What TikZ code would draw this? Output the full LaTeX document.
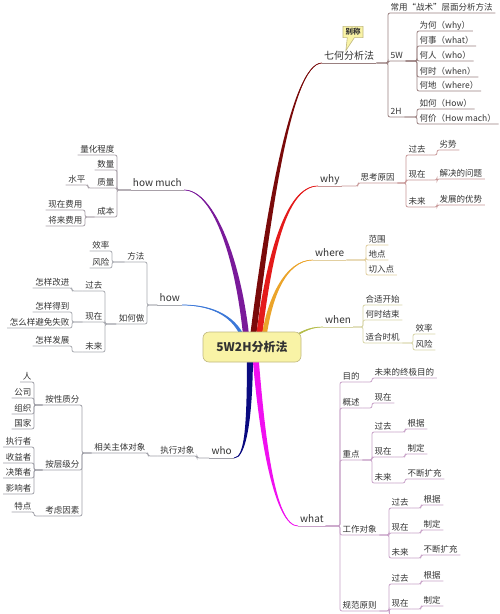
\documentclass[tikz,border=0pt]{standalone}
\usepackage{fontspec}
\setmainfont{Noto Sans CJK SC}
\usetikzlibrary{calc,shapes.callouts}
\definecolor{txt}{HTML}{333333}
\definecolor{mq}{HTML}{7A0A0A}\definecolor{sq}{HTML}{9A8080}
\definecolor{my}{HTML}{E41B1B}\definecolor{sy}{HTML}{C89898}
\definecolor{mr}{HTML}{EBA42A}\definecolor{sr}{HTML}{E2CFA0}
\definecolor{mn}{HTML}{B5BD4A}\definecolor{sn}{HTML}{D8D6A8}
\definecolor{mw}{HTML}{F010F0}\definecolor{sw}{HTML}{C8A2C8}
\definecolor{mo}{HTML}{0A0A80}\definecolor{so}{HTML}{A0A0A8}
\definecolor{mh}{HTML}{3C78D8}\definecolor{sh}{HTML}{A8AAB0}
\definecolor{mm}{HTML}{7A1A9A}\definecolor{sm}{HTML}{A8A0A8}
\definecolor{boxfill}{HTML}{F9F3A6}\definecolor{boxline}{HTML}{C0B880}
\newcommand\mbranch[7]{%
 \fill[#5] ($#1+#6$) .. controls ($#2+#6$) and ($#3+#7$) .. #4 .. controls ($#3-#7$) and ($#2-#6$) .. ($#1-#6$) -- cycle;
 \draw[#5,line width=0.7pt] #1 .. controls #2 and #3 .. #4;}
\newcommand\rc[3]{\draw[sub,#1] (#2.south east) -- (#2.south east -| #3.south west) |- (#3.south east);}
\newcommand\lc[3]{\draw[sub,#1] (#2.south west) -- (#2.south west -| #3.south east) |- (#3.south west);}
\begin{document}
\begin{tikzpicture}[x=1pt,y=-1pt,
 t/.style={font=\fontsize{8.5}{10}\selectfont, text=txt, inner xsep=2.5pt, inner ysep=1.2pt, text height=7pt, text depth=1.5pt},
 tr/.style={t, anchor=south west}, tl/.style={t, anchor=south east},
 m/.style={font=\fontsize{10}{12}\selectfont, text=txt, inner xsep=2pt, inner ysep=1.5pt, text height=8pt, text depth=2pt},
 mrt/.style={m, anchor=south west}, mlt/.style={m, anchor=south east},
 sub/.style={line width=0.8pt, rounded corners=2pt},
 cbox/.style={draw=boxline, fill=boxfill, line width=0.6pt, rounded corners=6pt, minimum width=98pt, minimum height=30pt, text=txt, font=\bfseries\fontsize{12}{14}\selectfont},
 bubble/.style={rectangle callout, callout relative pointer={(-5,13)}, draw=boxline, fill=boxfill, line width=0.6pt, inner xsep=2.5pt, inner ysep=2pt, text=txt, font=\bfseries\fontsize{7.5}{9}\selectfont}
]
\useasboundingbox (0,0) rectangle (500,614);
\fill[white] (0,0) rectangle (500,614);
% ---------- main labels ----------
\node[mrt] (q) at (322,63) {七何分析法};
\node[mrt] (y) at (318,186) {why};
\node[mrt] (r) at (313,260) {where};
\node[mrt] (n) at (323,327) {when};
\node[mrt] (w) at (298,526) {what};
\node[mlt] (o) at (234,458) {who};
\node[mlt] (h) at (182,305) {how};
\node[mlt] (hm) at (184,190) {how much};
\node[bubble] (bc) at (353,32) {别称};
% ---------- start points ----------
\coordinate (s1) at (252,345);
\coordinate (s2) at (258,345);
\coordinate (s3) at (263,345);
\coordinate (s4) at (285,342);
\coordinate (s5) at (255,350);
\coordinate (s6) at (250,350);
\coordinate (s7) at (244,340);
\coordinate (s8) at (247,345);
% ---------- thick branches ----------
\mbranch{(s8)}{(240,265)}{(215,190)}{(hm.south east)}{mm}{(3,0)}{(0,-1.2)}
\mbranch{(s7)}{(236,318)}{(215,305)}{(h.south east)}{mh}{(2,0)}{(0,-1)}
\mbranch{(s1)}{(266,230)}{(290,63)}{(q.south west)}{mq}{(3,0)}{(0,1.2)}
\mbranch{(s2)}{(268,260)}{(285,186)}{(y.south west)}{my}{(3,0)}{(0,1.2)}
\mbranch{(s3)}{(268,300)}{(285,260)}{(r.south west)}{mr}{(2.5,0)}{(0,1)}
\mbranch{(s4)}{(300,333)}{(308,327)}{(n.south west)}{mn}{(0,1.2)}{(0,0.6)}
\mbranch{(s6)}{(250,425)}{(245,458)}{(o.south east)}{mo}{(3,0)}{(0,1.2)}
\mbranch{(s5)}{(262,440)}{(275,526)}{(w.south west)}{mw}{(3,0)}{(0,-1.2)}
\node[cbox] (c) at (252,347) {5W2H分析法};
% ---------- underlines of main labels ----------
\draw[sub,sq] (q.south west) -- (q.south east);
\draw[sub,sy] (y.south west) -- (y.south east);
\draw[sub,sr] (r.south west) -- (r.south east);
\draw[sub,sn] (n.south west) -- (n.south east);
\draw[sub,sw] (w.south west) -- (w.south east);
\draw[sub,so] (o.south east) -- (o.south west);
\draw[sub,sh] (h.south east) -- (h.south west);
\draw[sub,sm] (hm.south east) -- (hm.south west);
% ---------- 七何分析法 ----------
\node[tr] (q1) at (388,13) {常用“战术”层面分析方法};
\node[tr] (q2) at (388,61) {5W};
\node[tr] (q3) at (388,117) {2H};
\node[tr] (q21) at (417,31) {为何（why）};
\node[tr] (q22) at (417,46) {何事（what）};
\node[tr] (q23) at (417,61) {何人（who）};
\node[tr] (q24) at (417,77) {何时（when）};
\node[tr] (q25) at (417,91) {何地（where）};
\node[tr] (q31) at (417,109) {如何（How）};
\node[tr] (q32) at (417,124) {何价（How mach）};
\rc{sq}{q}{q1}\rc{sq}{q}{q2}\rc{sq}{q}{q3}
\rc{sq}{q2}{q21}\rc{sq}{q2}{q22}\rc{sq}{q2}{q23}\rc{sq}{q2}{q24}\rc{sq}{q2}{q25}
\rc{sq}{q3}{q31}\rc{sq}{q3}{q32}
% ---------- why ----------
\node[tr] (y1) at (358,183) {思考原因};
\node[tr] (y11) at (406,155) {过去};
\node[tr] (y12) at (406,180) {现在};
\node[tr] (y13) at (406,207) {未来};
\node[tr] (y111) at (437,150) {劣势};
\node[tr] (y121) at (437,179) {解决的问题};
\node[tr] (y131) at (437,205) {发展的优势};
\rc{sy}{y}{y1}
\rc{sy}{y1}{y11}\rc{sy}{y1}{y12}\rc{sy}{y1}{y13}
\rc{sy}{y11}{y111}\rc{sy}{y12}{y121}\rc{sy}{y13}{y131}
% ---------- where ----------
\node[tr] (r1) at (366,245) {范围};
\node[tr] (r2) at (366,260) {地点};
\node[tr] (r3) at (366,275) {切入点};
\rc{sr}{r}{r1}\rc{sr}{r}{r2}\rc{sr}{r}{r3}
% ---------- when ----------
\node[tr] (n1) at (363,305) {合适开始};
\node[tr] (n2) at (363,320) {何时结束};
\node[tr] (n3) at (363,343) {适合时机};
\node[tr] (n31) at (413,334) {效率};
\node[tr] (n32) at (413,350) {风险};
\rc{sn}{n}{n1}\rc{sn}{n}{n2}\rc{sn}{n}{n3}
\rc{sn}{n3}{n31}\rc{sn}{n3}{n32}
% ---------- what ----------
\node[tr] (w1) at (340,382) {目的};
\node[tr] (w2) at (340,408) {概述};
\node[tr] (w3) at (340,460) {重点};
\node[tr] (w4) at (340,535) {工作对象};
\node[tr] (w5) at (340,611) {规范原则};
\node[tr] (w11) at (372,378) {未来的终极目的};
\node[tr] (w21) at (372,403) {现在};
\node[tr] (w31) at (372,432) {过去};
\node[tr] (w32) at (372,457) {现在};
\node[tr] (w33) at (372,483) {未来};
\node[tr] (w311) at (405,429) {根据};
\node[tr] (w321) at (405,454) {制定};
\node[tr] (w331) at (405,479) {不断扩充};
\node[tr] (w41) at (389,508) {过去};
\node[tr] (w42) at (389,533) {现在};
\node[tr] (w43) at (389,558) {未来};
\node[tr] (w411) at (421,505) {根据};
\node[tr] (w421) at (421,530) {制定};
\node[tr] (w431) at (421,555) {不断扩充};
\node[tr] (w51) at (389,584) {过去};
\node[tr] (w52) at (389,609) {现在};
\node[tr] (w511) at (421,581) {根据};
\node[tr] (w521) at (421,606) {制定};
\coordinate (wcut) at (389,622);
\rc{sw}{w}{w1}\rc{sw}{w}{w2}\rc{sw}{w}{w3}\rc{sw}{w}{w4}\rc{sw}{w}{w5}
\rc{sw}{w1}{w11}\rc{sw}{w2}{w21}
\rc{sw}{w3}{w31}\rc{sw}{w3}{w32}\rc{sw}{w3}{w33}
\rc{sw}{w31}{w311}\rc{sw}{w32}{w321}\rc{sw}{w33}{w331}
\rc{sw}{w4}{w41}\rc{sw}{w4}{w42}\rc{sw}{w4}{w43}
\rc{sw}{w41}{w411}\rc{sw}{w42}{w421}\rc{sw}{w43}{w431}
\rc{sw}{w5}{w51}\rc{sw}{w5}{w52}
\rc{sw}{w51}{w511}\rc{sw}{w52}{w521}
\draw[sub,sw] (w52.south west) -- (wcut);
% ---------- who ----------
\node[tl] (o1) at (197,456) {执行对象};
\node[tl] (o11) at (148,453) {相关主体对象};
\node[tl] (o111) at (82,405) {按性质分};
\node[tl] (o112) at (82,470) {按层级分};
\node[tl] (o113) at (82,516) {考虑因素};
\node[tl] (oa1) at (34,382) {人};
\node[tl] (oa2) at (34,398) {公司};
\node[tl] (oa3) at (34,414) {组织};
\node[tl] (oa4) at (34,429) {国家};
\node[tl] (ob1) at (34,447) {执行者};
\node[tl] (ob2) at (34,463) {收益者};
\node[tl] (ob3) at (34,478) {决策者};
\node[tl] (ob4) at (34,494) {影响者};
\node[tl] (oc1) at (34,512) {特点};
\lc{so}{o}{o1}\lc{so}{o1}{o11}
\lc{so}{o11}{o111}\lc{so}{o11}{o112}\lc{so}{o11}{o113}
\lc{so}{o111}{oa1}\lc{so}{o111}{oa2}\lc{so}{o111}{oa3}\lc{so}{o111}{oa4}
\lc{so}{o112}{ob1}\lc{so}{o112}{ob2}\lc{so}{o112}{ob3}\lc{so}{o112}{ob4}
\lc{so}{o113}{oc1}
% ---------- how ----------
\node[tl] (h1) at (147,262) {方法};
\node[tl] (h2) at (147,324) {如何做};
\node[tl] (h11) at (112,251) {效率};
\node[tl] (h12) at (112,268) {风险};
\node[tl] (h21) at (105,291) {过去};
\node[tl] (h22) at (105,322) {现在};
\node[tl] (h23) at (105,352) {未来};
\node[tl] (h211) at (72,288) {怎样改进};
\node[tl] (h221) at (72,312) {怎样得到};
\node[tl] (h222) at (72,328) {怎么样避免失败};
\node[tl] (h231) at (72,346) {怎样发展};
\lc{sh}{h}{h1}\lc{sh}{h}{h2}
\lc{sh}{h1}{h11}\lc{sh}{h1}{h12}
\lc{sh}{h2}{h21}\lc{sh}{h2}{h22}\lc{sh}{h2}{h23}
\lc{sh}{h21}{h211}\lc{sh}{h22}{h221}\lc{sh}{h22}{h222}\lc{sh}{h23}{h231}
% ---------- how much ----------
\node[tl] (hm1) at (117,155) {量化程度};
\node[tl] (hm2) at (117,170) {数量};
\node[tl] (hm3) at (117,188) {质量};
\node[tl] (hm4) at (117,217) {成本};
\node[tl] (hm31) at (88,185) {水平};
\node[tl] (hm41) at (85,210) {现在费用};
\node[tl] (hm42) at (85,226) {将来费用};
\lc{sm}{hm}{hm1}\lc{sm}{hm}{hm2}\lc{sm}{hm}{hm3}\lc{sm}{hm}{hm4}
\lc{sm}{hm3}{hm31}\lc{sm}{hm4}{hm41}\lc{sm}{hm4}{hm42}
\end{tikzpicture}
\end{document}
